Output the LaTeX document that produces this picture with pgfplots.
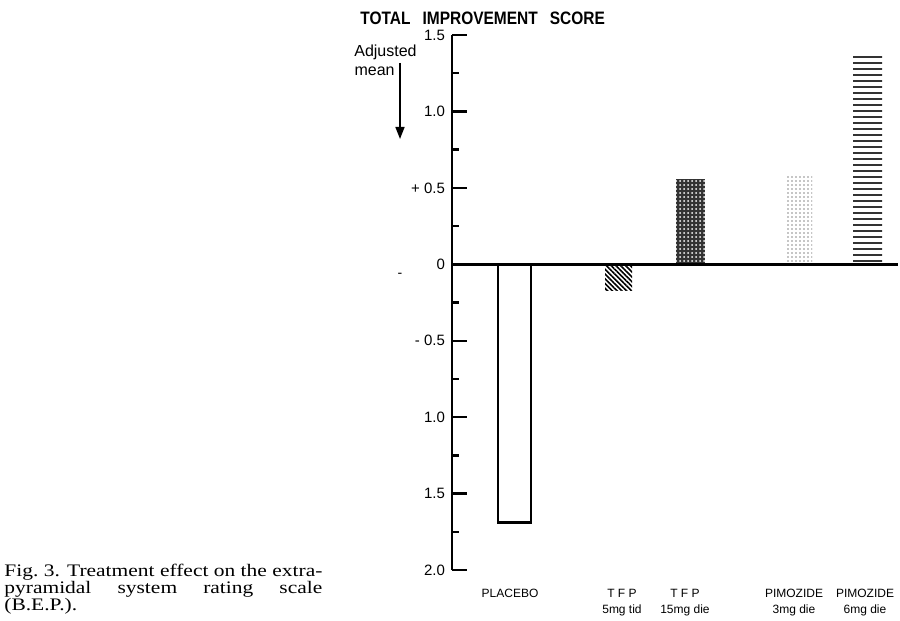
\documentclass[border=0pt]{standalone}
\usepackage{fontspec}
\setmainfont{Liberation Sans}
\newfontfamily\capfont[FakeStretch=1.22]{Liberation Serif}
\newfontfamily\titlefont[FakeStretch=0.86]{Liberation Sans}
\usepackage{pgfplots}
\pgfplotsset{compat=1.18}
\usetikzlibrary{patterns.meta,arrows.meta}

\begin{document}
\begin{tikzpicture}
\useasboundingbox (0,0) rectangle (450pt,310.5pt);
\begin{axis}[
  at={(226pt,25.5pt)}, anchor=south west,
  scale only axis, width=223pt, height=267.5pt,
  xmin=452, xmax=898, ymin=-2, ymax=1.5,
  clip=false,
  axis lines*=left,
  x axis line style={draw=none},
  y axis line style={line width=1.2pt},
  xtick={510,622,685,794,865},
  xticklabels={PLACEBO, T F P\\5mg tid, T F P\\15mg die, PIMOZIDE\\3mg die, PIMOZIDE\\6mg die},
  xticklabel style={align=center, font=\fontsize{6}{8}\selectfont, yshift=-6pt},
  xtick style={draw=none},
  ytick={-2,-1.5,-1,-0.5,0,0.5,1,1.5},
  yticklabels={2.0,1.5,1.0,-~0.5,0,+~0.5,1.0,1.5},
  minor ytick={-1.75,-1.25,-0.75,-0.25,0.25,0.75,1.25},
  yticklabel style={font=\fontsize{7.5}{8}\selectfont},
  tick align=inside,
  ytick style={line width=1.2pt, black},
  major tick length=7.5pt, minor tick length=3.5pt,
]
\addplot[ybar, bar width=33, bar shift=0pt, draw=black, line width=1.4pt, fill=white] coordinates {(514.5,-1.69)};
\addplot[ybar, bar width=27, bar shift=0pt, draw=none, pattern={Lines[angle=-45,distance=1.7pt,line width=0.8pt]}, pattern color=black] coordinates {(618.5,-0.17)};
\addplot[ybar, bar width=29, bar shift=0pt, draw=none, fill=black!80] coordinates {(690.5,0.56)};
\addplot[ybar, bar width=29, bar shift=0pt, draw=none, pattern={Dots[distance=2pt,radius=0.5pt]}, pattern color=white] coordinates {(690.5,0.56)};
\addplot[ybar, bar width=25, bar shift=0pt, draw=none, pattern={Dots[distance=2pt,radius=0.45pt]}, pattern color=black!45] coordinates {(799.5,0.59)};
\addplot[ybar, bar width=29, bar shift=0pt, draw=none, pattern={Lines[angle=0,distance=3pt,line width=1.3pt]}, pattern color=black!80] coordinates {(867.5,1.37)};
\addplot[line width=1.4pt, black] coordinates {(452,0) (898,0)};
\end{axis}
\node[anchor=base west, inner sep=0, font=\titlefont\fontsize{9}{10}\selectfont\bfseries] at (180pt,298pt) {TOTAL\hspace{6pt}IMPROVEMENT\hspace{6pt}SCORE};
\node[anchor=base east, inner sep=0, font=\fontsize{8}{9}\selectfont] at (208.5pt,282pt) {Adjusted};
\node[anchor=base east, inner sep=0, font=\fontsize{8}{9}\selectfont] at (197.5pt,272.5pt) {mean};
\draw[line width=0.8pt, -{Triangle[length=6pt,width=4.5pt]}] (200pt,279pt) -- (200pt,241pt);
\node[font=\fontsize{7}{8}\selectfont, inner sep=0] at (200pt,173pt) {-};
\node[anchor=base west, inner sep=0, text width=159pt, align=justify, font=\capfont\fontsize{8.8}{8.3}\selectfont] at (2pt,22pt) {Fig.~3. Treatment effect on the extra-\linebreak pyramidal system rating scale\linebreak (B.E.P.).};
\end{tikzpicture}
\end{document}
